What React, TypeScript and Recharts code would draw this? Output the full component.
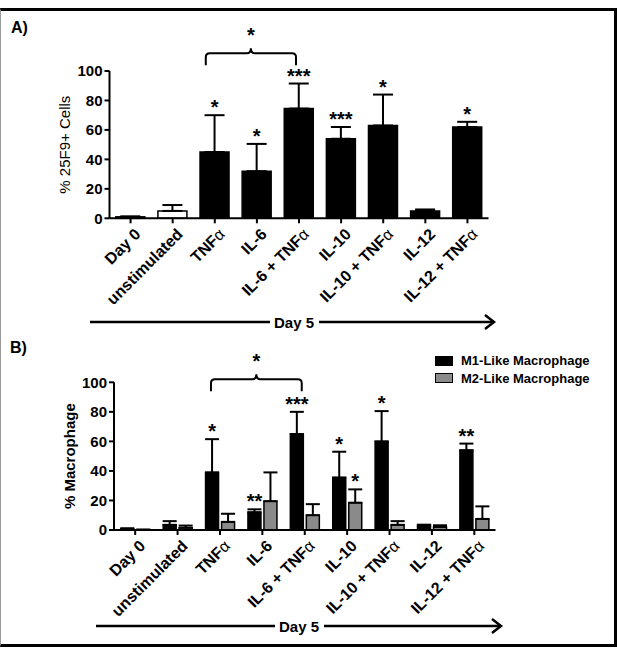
import React from 'react';
import {
  BarChart,
  Bar,
  XAxis,
  YAxis,
  ErrorBar,
  Cell,
  LabelList,
  ReferenceLine,
  Legend,
} from 'recharts';

// conditions on the x axis (same for both panels)
const categories = [
  'Day 0',
  'unstimulated',
  'TNFα',
  'IL-6',
  'IL-6 + TNFα',
  'IL-10',
  'IL-10 + TNFα',
  'IL-12',
  'IL-12 + TNFα',
];

// panel A: % 25F9+ cells (mean, upper SEM) and significance
const cells25F9 = [1, 5, 45, 32, 74.5, 54, 63, 5, 62];
const cells25F9Err = [0.3, 4, 25, 18.5, 17, 8, 21, 1, 3.5];
const cells25F9Stars = ['', '', '*', '*', '***', '***', '*', '', '*'];

// panel B: % macrophage
const m1Like = [0.7, 3.5, 39, 12, 65, 35.5, 60, 3.5, 54];
const m1LikeErr = [0.5, 2.5, 22.5, 2, 15, 17.5, 20.5, 0, 4.5];
const m1LikeStars = ['', '', '*', '**', '***', '*', '*', '', '**'];
const m2Like = [0.2, 1.5, 5.5, 19.5, 10, 18.5, 3.5, 2, 7.5];
const m2LikeErr = [0, 1.5, 5.5, 19.5, 7.5, 9, 2.5, 1.2, 8.5];
const m2LikeStars = ['', '', '', '', '', '*', '', '', ''];

const yTicks = [0, 20, 40, 60, 80, 100];
const seriesNames = ['M1-Like Macrophage', 'M2-Like Macrophage'];

const dataA = categories.map((name, i) => ({
  name,
  value: cells25F9[i],
  err: [0, cells25F9Err[i]],
}));

const dataB = categories.map((name, i) => ({
  name,
  m1: m1Like[i],
  m1Err: [0, m1LikeErr[i]],
  m2: m2Like[i],
  m2Err: [0, m2LikeErr[i]],
}));

const FONT = '"Liberation Sans", Arial, sans-serif';
const GRAY = '#8a8a8a';

const CatTick = (props: any) => {
  const { x, y, payload } = props;
  const label: string = payload.value;
  const alpha = label.endsWith('α');
  const main = alpha ? label.slice(0, -1) : label;
  return (
    <g transform={`translate(${x + 11},${y + 10})`}>
      <text textAnchor="end" transform="rotate(-45)" fontSize={16} fontWeight={700} fill="#000">
        {main}
        {alpha && <tspan fontWeight={400}>α</tspan>}
      </text>
    </g>
  );
};

const starLabel = (stars: string[], vals: number[], errs: number[]) => (p: any) => {
  const { x, y, width, height, index } = p;
  const s = stars[index];
  if (!s) return null;
  const perUnit = height / vals[index];
  const top = y - errs[index] * perUnit;
  return (
    <text x={x + width / 2} y={top - 1} textAnchor="middle" fontSize={20} fontWeight={700} fill="#000">
      {s}
    </text>
  );
};

const Brace = (p: any) => {
  const { x1, x2, y1 } = p;
  const xl = x1 - 9;
  const xr = x2 - 3;
  const xm = (xl + xr) / 2;
  const d = `M${xl},${y1 + 12} L${xl},${y1 + 4} Q${xl},${y1} ${xl + 4},${y1} L${xm - 4},${y1} Q${xm},${y1} ${xm},${y1 - 5} Q${xm},${y1} ${xm + 4},${y1} L${xr - 4},${y1} Q${xr},${y1} ${xr},${y1 + 4} L${xr},${y1 + 12}`;
  return (
    <g>
      <path d={d} fill="none" stroke="#000" strokeWidth={2} />
      <text x={xm} y={y1 - 11} textAnchor="middle" fontSize={20} fontWeight={700} fill="#000">
        *
      </text>
    </g>
  );
};

const axisProps = {
  stroke: '#000',
  axisLine: { stroke: '#000', strokeWidth: 2 },
  tickLine: { stroke: '#000', strokeWidth: 2 },
  tickSize: 5,
};

const yTitle = (text: string, cx: number, weight: number) => (p: any) => {
  const vb = p.viewBox;
  const cy = vb.y + vb.height / 2;
  return (
    <text
      x={cx}
      y={cy}
      transform={`rotate(-90, ${cx}, ${cy})`}
      textAnchor="middle"
      dominantBaseline="central"
      fontSize={15}
      fontWeight={weight}
      fill="#000"
    >
      {text}
    </text>
  );
};

const LegendBox = (p: any) => (
  <div style={{ fontFamily: FONT }}>
    {(p.payload || []).map((e: any) => (
      <div key={e.value} style={{ display: 'flex', alignItems: 'center', height: 17.5 }}>
        <span
          style={{
            display: 'inline-block',
            width: 18,
            height: 10,
            boxSizing: 'border-box',
            background: e.color,
            border: '1.5px solid #000',
            marginRight: 8,
          }}
        />
        <span style={{ fontSize: 13, fontWeight: 700, color: '#000' }}>{e.value}</span>
      </div>
    ))}
  </div>
);

const DayArrow = ({ y, x0, x1, tx }: { y: number; x0: number; x1: number; tx: number }) => (
  <g>
    <line x1={x0} y1={y} x2={tx - 24} y2={y} stroke="#000" strokeWidth={2.5} />
    <line x1={tx + 25} y1={y} x2={x1} y2={y} stroke="#000" strokeWidth={2.5} />
    <path d={`M${x1 - 9},${y - 7} L${x1},${y} L${x1 - 9},${y + 7}`} fill="none" stroke="#000" strokeWidth={2.5} />
    <text x={tx} y={y + 5.5} textAnchor="middle" fontSize={15} fontWeight={700} fill="#000">
      Day 5
    </text>
  </g>
);

export default function App() {
  return (
    <div style={{ position: 'absolute', left: 0, top: 0, width: 617, height: 651, fontFamily: FONT, background: '#fff' }}>
      <div
        style={{
          position: 'absolute',
          left: 0,
          top: 8,
          width: 617,
          height: 639,
          boxSizing: 'border-box',
          borderTop: '3px solid #000',
          borderBottom: '3px solid #000',
          borderRight: '3px solid #000',
          borderLeft: '1px solid #999',
        }}
      />

      <div style={{ position: 'absolute', left: 0, top: 0 }}>
        <BarChart
          width={617}
          height={330}
          data={dataA}
          margin={{ top: 71, right: 128.5, bottom: 11.7, left: 0 }}
          barCategoryGap="15%"
        >
          <XAxis dataKey="name" interval={0} height={100} tick={<CatTick />} {...axisProps} />
          <YAxis
            domain={[0, 100]}
            ticks={yTicks}
            width={109.5}
            tick={{ fill: '#000', fontSize: 15, fontWeight: 700 }}
            label={{ content: yTitle('% 25F9+ Cells', 65, 400) }}
            {...axisProps}
          />
          <Bar dataKey="value" isAnimationActive={false} stroke="#000" strokeWidth={1.5}>
            {dataA.map((d, i) => (
              <Cell key={d.name} fill={i === 1 ? '#fff' : '#000'} />
            ))}
            <ErrorBar dataKey="err" width={10} stroke="#000" strokeWidth={2} direction="y" />
            <LabelList content={starLabel(cells25F9Stars, cells25F9, cells25F9Err)} />
          </Bar>
          <ReferenceLine
            segment={[
              { x: 'TNFα', y: 112 },
              { x: 'IL-6 + TNFα', y: 112 },
            ]}
            ifOverflow="visible"
            shape={Brace}
          />
        </BarChart>
      </div>

      <div style={{ position: 'absolute', left: 0, top: 330 }}>
        <BarChart
          width={617}
          height={321}
          data={dataB}
          margin={{ top: 52.3, right: 121.5, bottom: 21, left: 0 }}
          barCategoryGap="16%"
          barGap={3}
        >
          <XAxis dataKey="name" interval={0} height={100} tick={<CatTick />} {...axisProps} />
          <YAxis
            domain={[0, 100]}
            ticks={yTicks}
            width={114}
            tick={{ fill: '#000', fontSize: 15, fontWeight: 700 }}
            label={{ content: yTitle('% Macrophage', 70, 700) }}
            {...axisProps}
          />
          <Legend
            verticalAlign="middle"
            align="center"
            layout="vertical"
            content={<LegendBox />}
            wrapperStyle={{ position: 'absolute', top: 22, left: 435, width: 180 }}
          />
          <Bar dataKey="m1" name={seriesNames[0]} fill="#000" stroke="#000" strokeWidth={1.5} isAnimationActive={false}>
            <ErrorBar dataKey="m1Err" width={7} stroke="#000" strokeWidth={2} direction="y" />
            <LabelList content={starLabel(m1LikeStars, m1Like, m1LikeErr)} />
          </Bar>
          <Bar dataKey="m2" name={seriesNames[1]} fill={GRAY} stroke="#000" strokeWidth={1.5} isAnimationActive={false}>
            <ErrorBar dataKey="m2Err" width={7} stroke="#000" strokeWidth={2} direction="y" />
            <LabelList content={starLabel(m2LikeStars, m2Like, m2LikeErr)} />
          </Bar>
          <ReferenceLine
            segment={[
              { x: 'TNFα', y: 102 },
              { x: 'IL-6 + TNFα', y: 102 },
            ]}
            ifOverflow="visible"
            shape={Brace}
          />
        </BarChart>
      </div>

      <svg width={617} height={651} style={{ position: 'absolute', left: 0, top: 0, pointerEvents: 'none' }}>
        <text x={11} y={33} fontSize={16} fontWeight={700} fill="#000">
          A)
        </text>
        <text x={10} y={353} fontSize={16} fontWeight={700} fill="#000">
          B)
        </text>
        <DayArrow y={322} x0={90} x1={494} tx={294} />
        <DayArrow y={626} x0={96} x1={501} tx={299} />
      </svg>
    </div>
  );
}
